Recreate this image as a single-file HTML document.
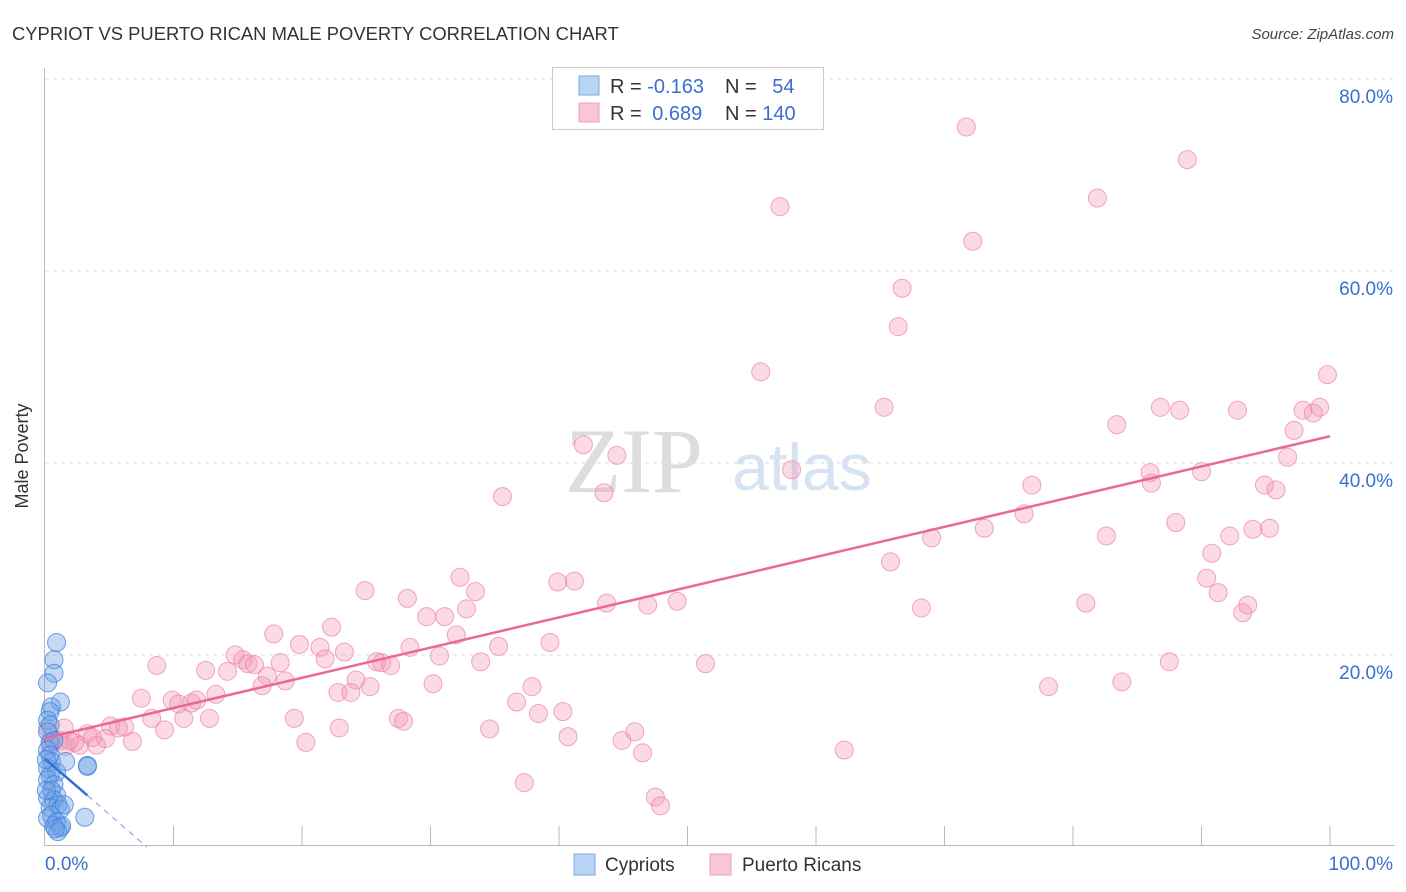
<!DOCTYPE html>
<html><head><meta charset="utf-8">
<style>
body{margin:0;background:#fff;font-family:"Liberation Sans",sans-serif;}
svg{display:block}
</style></head>
<body>
<svg id="chart" width="1406" height="892" xmlns="http://www.w3.org/2000/svg">
<text x="12" y="40" font-size="18.4" fill="#333">CYPRIOT VS PUERTO RICAN MALE POVERTY CORRELATION CHART</text>
<text x="1394" y="39" font-size="15" fill="#444" font-style="italic" text-anchor="end">Source: ZipAtlas.com</text>
<g>
<text x="634" y="492" font-size="92" fill="#ddd" font-family="Liberation Serif,serif" text-anchor="middle">ZIP</text>
<text x="802" y="490" font-size="66" fill="#d5e3f3" text-anchor="middle">atlas</text>
</g>
<g id="grid"></g>
<g id="axes"></g>
<g id="pts"></g>
<g id="trends"></g>
<text x="28" y="456" font-size="18" fill="#333" transform="rotate(-90 28 456)" text-anchor="middle">Male Poverty</text>
<g>
<rect x="552.5" y="67.5" width="271" height="62" fill="#fff" stroke="#ccc"/>
<rect x="579" y="76" width="20" height="19" fill="#b9d3f5" stroke="#7aa8e8"/>
<rect x="579" y="103" width="20" height="19" fill="#f9c6d6" stroke="#f0a0bb"/>
<text x="610" y="93" font-size="20" fill="#333">R = <tspan fill="#3a6fd0">-0.163</tspan></text>
<text x="725" y="93" font-size="20" fill="#333">N = <tspan fill="#3a6fd0" dx="10">54</tspan></text>
<text x="610" y="120" font-size="20" fill="#333">R = <tspan fill="#3a6fd0" dx="5">0.689</tspan></text>
<text x="725" y="120" font-size="20" fill="#333">N = <tspan fill="#3a6fd0">140</tspan></text>
</g>
<g>
<rect x="574" y="854" width="21" height="21" fill="#b9d3f5" stroke="#7aa8e8"/>
<text x="605" y="871" font-size="19" fill="#333">Cypriots</text>
<rect x="710" y="854" width="21" height="21" fill="#f9c6d6" stroke="#f0a0bb"/>
<text x="742" y="871" font-size="19" fill="#333">Puerto Ricans</text>
</g>
</svg>
<script>
const yTicks=[20,40,60,80];
const yTickLabels=["20.0%","40.0%","60.0%","80.0%"];
const xTickLabels=["0.0%","100.0%"];
const pinkX=[71.7,88.9,57.2,81.9,72.2,66.7,66.4,55.7,99.8,65.3,86.8,88.3,92.8,97.9,98.7,99.2,83.4,41.9,44.5,58.1,97.2,96.7,86.0,90.0,86.1,94.9,95.8,76.8,35.6,43.5,88.0,73.1,76.2,69.0,82.6,94.0,95.3,92.2,90.8,65.8,32.3,41.2,39.9,24.9,33.5,28.2,90.4,91.3,93.6,93.2,43.7,46.9,49.2,68.2,81.0,32.8,29.7,31.1,17.8,22.3,32.0,19.8,21.4,14.8,15.4,23.3,28.4,30.7,35.3,39.3,8.7,12.5,14.2,15.8,16.3,18.3,21.8,25.8,26.2,26.9,33.9,51.4,87.5,17.3,18.7,24.2,16.9,25.3,30.2,37.9,78.1,83.8,7.5,9.9,13.3,10.4,11.4,11.8,8.3,10.8,12.8,19.4,22.8,23.8,27.5,27.9,36.7,38.4,40.3,34.6,9.3,6.2,5.1,5.7,3.3,4.7,6.8,1.5,1.2,1.6,2.3,2.7,20.3,22.9,40.7,44.9,45.9,46.5,62.2,37.3,47.5,47.9,0.2,0.4,0.5,4.0,3.7,1.9];
const pinkY=[75.0,71.6,66.7,67.6,63.1,58.2,54.2,49.5,49.2,45.8,45.8,45.5,45.5,45.5,45.2,45.8,44.0,41.9,40.8,39.3,43.4,40.6,39.0,39.1,37.9,37.7,37.2,37.7,36.5,36.9,33.8,33.2,34.7,32.2,32.4,33.1,33.2,32.4,30.6,29.7,28.1,27.7,27.6,26.7,26.6,25.9,28.0,26.5,25.2,24.4,25.4,25.2,25.6,24.9,25.4,24.8,24.0,24.0,22.2,22.9,22.1,21.1,20.8,20.0,19.5,20.3,20.8,19.9,20.9,21.3,18.9,18.4,18.3,19.1,19.0,19.2,19.6,19.3,19.2,18.9,19.3,19.1,19.3,17.8,17.3,17.4,16.8,16.7,17.0,16.7,16.7,17.2,15.5,15.3,15.9,14.9,15.0,15.3,13.4,13.4,13.4,13.4,16.1,16.1,13.4,13.1,15.1,13.9,14.1,12.3,12.2,12.5,12.6,12.4,11.8,11.3,11.0,12.4,11.1,10.5,10.9,10.6,10.9,12.4,11.5,11.1,12.0,9.8,10.1,6.7,5.2,4.3,12.4,10.6,11.4,10.6,11.4,11.1];
const blueX=[0.9,0.7,0.7,0.2,1.2,0.5,0.4,0.2,0.4,0.2,0.4,0.7,0.2,0.4,0.5,0.2,0.9,0.4,0.2,0.7,0.5,0.9,0.2,0.7,1.0,0.4,1.2,0.5,0.2,0.9,0.7,1.2,1.3,3.1,3.3,3.3,1.6,1.0,0.8,1.5,0.1,0.1];
const blueY=[21.3,19.5,18.1,17.1,15.1,14.6,14.1,13.2,12.7,12.0,10.9,11.1,10.1,9.6,8.9,8.2,7.8,7.5,7.0,6.5,5.9,5.4,5.1,4.9,4.4,4.1,3.9,3.3,3.0,2.6,2.2,2.0,2.2,3.1,8.5,8.4,8.9,1.6,1.9,4.4,5.9,9.1];
const NS="http://www.w3.org/2000/svg";
const X0=45,X1=1330,Y0=847,Y80=79;
const sx=v=>X0+(X1-X0)*v/100;
const sy=v=>Y0-(Y0-Y80)*v/80;
function mk(tag,attrs,parent){const e=document.createElementNS(NS,tag);for(const k in attrs)e.setAttribute(k,attrs[k]);parent.appendChild(e);return e;}
const grid=document.getElementById('grid'),axes=document.getElementById('axes'),pts=document.getElementById('pts'),tr=document.getElementById('trends');
yTicks.forEach((t,i)=>{
 const l=mk('line',{x1:45,x2:1395,y1:sy(t),y2:sy(t),stroke:'#ddd','stroke-dasharray':'4,4'},grid);
 
 
 const tx=mk('text',{x:1393,y:sy(t)+24,'font-size':19,fill:'#3a6fd0','text-anchor':'end'},grid);
 tx.textContent=yTickLabels[i];
 
 
});
const ya=mk('line',{x1:44.5,x2:44.5,y1:68,y2:846,stroke:'#bbb'},axes);


const xa=mk('line',{x1:44,x2:1395,y1:845.5,y2:845.5,stroke:'#bbb'},axes);


for(let v=10;v<=100;v+=10){
 const t=mk('line',{x1:sx(v),x2:sx(v),y1:826,y2:846,stroke:'#bbb'},axes);
 
 
}
const xl0=mk('text',{x:45,y:870,'font-size':19,fill:'#3a6fd0'},axes);xl0.textContent=xTickLabels[0];


const xl1=mk('text',{x:1393,y:870,'font-size':19,fill:'#3a6fd0','text-anchor':'end'},axes);xl1.textContent=xTickLabels[1];


pinkX.forEach((x,i)=>{
 const c=mk('circle',{cx:sx(x),cy:sy(pinkY[i]),r:9,fill:'rgba(244,150,182,0.35)',stroke:'rgba(236,130,165,0.7)','stroke-width':1},pts);
 
 
});
blueX.forEach((x,i)=>{
 const c=mk('circle',{cx:sx(x),cy:sy(blueY[i]),r:9,fill:'rgba(110,160,230,0.4)',stroke:'rgba(60,130,220,0.75)','stroke-width':1},pts);
 
 
});
function reg(xs,ys){const n=xs.length;let mx=0,my=0;xs.forEach((x,i)=>{mx+=x;my+=ys[i]});mx/=n;my/=n;let a=0,b=0;xs.forEach((x,i)=>{a+=(x-mx)*(ys[i]-my);b+=(x-mx)*(x-mx)});const m=a/b;return [m,my-m*mx];}
const [pm,pb]=reg(pinkX,pinkY);
const pl=mk('line',{x1:sx(0),y1:sy(pb),x2:sx(100),y2:sy(pb+100*pm),stroke:'#e8689a','stroke-width':2.5},tr);


const [bm,bb]=reg(blueX,blueY);
const bxmax=Math.max(...blueX);
const bl=mk('line',{x1:sx(0),y1:sy(bb),x2:sx(bxmax),y2:sy(bb+bxmax*bm),stroke:'#2f6fd6','stroke-width':2.5},tr);


const xz=bm<0?-bb/bm:bxmax;
const bd=mk('line',{x1:sx(bxmax),y1:sy(bb+bxmax*bm),x2:sx(xz),y2:sy(0),stroke:'#8aaee0','stroke-width':1.2,'stroke-dasharray':'6,5'},tr);


</script>
</body></html>
